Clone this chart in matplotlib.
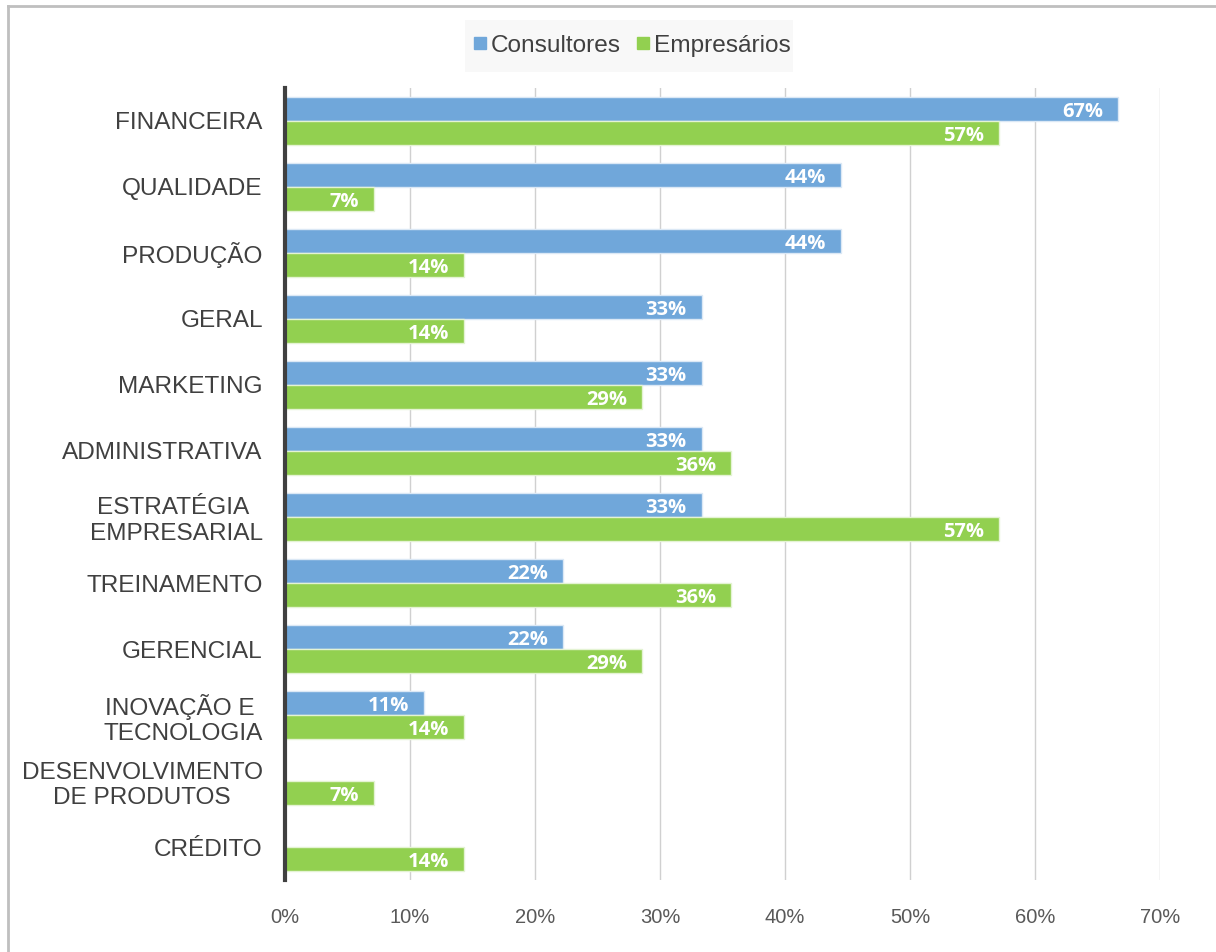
import numpy as np
import matplotlib.pyplot as plt
from matplotlib.lines import Line2D
from matplotlib.patches import Rectangle

categories = ["FINANCEIRA", "QUALIDADE", "PRODUÇÃO", "GERAL", "MARKETING",
              "ADMINISTRATIVA", "ESTRATÉGIA \nEMPRESARIAL", "TREINAMENTO",
              "GERENCIAL", "INOVAÇÃO E \nTECNOLOGIA",
              "DESENVOLVIMENTO\nDE PRODUTOS", "CRÉDITO"]
consultores = [66.67, 44.44, 44.44, 33.33, 33.33, 33.33, 33.33, 22.22, 22.22, 11.11, 0, 0]
empresarios = [57.14, 7.14, 14.29, 14.29, 28.57, 35.71, 57.14, 35.71, 28.57, 14.29, 7.14, 14.29]
xticks = [0, 10, 20, 30, 40, 50, 60, 70]

blue = "#70a7da"
green = "#92d050"
text_col = "#404040"

fig = plt.figure(figsize=(12.16, 9.52), dpi=100)
ax = fig.add_axes([0.2344, 0.0756, 0.954 - 0.2344, 0.9076 - 0.0756])

y = np.arange(len(categories))
h = 0.365
b1 = ax.barh(y - h / 2, consultores, height=h, color=blue, edgecolor="#dbe8f5", linewidth=1, zorder=3)
b2 = ax.barh(y + h / 2, empresarios, height=h, color=green, edgecolor="#e4f3d3", linewidth=1, zorder=3)

for bars, vals in ((b1, consultores), (b2, empresarios)):
    for bar, v in zip(bars, vals):
        if v <= 0:
            continue
        ax.text(v - 1.2, bar.get_y() + bar.get_height() / 2 + 0.04, f"{round(v)}%",
                ha="right", va="center", color="white", fontsize=14.5,
                fontweight="bold", family="Open Sans", zorder=4)

ax.set_ylim(len(categories) - 0.5, -0.5)
ax.set_xlim(0, 70)
ax.set_yticks(y)
ax.set_yticklabels(categories, fontsize=17.6, family="Liberation Sans", color=text_col,
                   multialignment="center")
ax.set_xticks(xticks)
ax.set_xticklabels([f"{t}%" for t in xticks], fontsize=14.5, family="Liberation Sans", color="#595959")
ax.tick_params(axis="both", length=0)
ax.tick_params(axis="x", pad=20)
ax.tick_params(axis="y", pad=16)

ax.grid(axis="x", color="#d0d0d0", linewidth=1, zorder=0)
for s in ("top", "right", "bottom"):
    ax.spines[s].set_visible(False)
ax.spines["left"].set_color("#404040")
ax.spines["left"].set_linewidth(3)
ax.spines["left"].set_zorder(5)

# legend box
fig.patches.append(Rectangle((465 / 1216, 1 - 72 / 952), 328 / 1216, 52 / 952,
                             transform=fig.transFigure, facecolor="#f8f8f8", edgecolor="none"))
handles = [Line2D([], [], marker="s", linestyle="none", markersize=8, color=blue),
           Line2D([], [], marker="s", linestyle="none", markersize=8, color=green)]
fig.legend(handles, ["Consultores", "Empresários"], loc="center", bbox_to_anchor=(630 / 1216, 1 - 46 / 952),
           ncol=2, frameon=False, prop={"family": "Liberation Sans", "size": 17.6},
           labelcolor=text_col, handletextpad=0.05, columnspacing=0.5, handlelength=0.8)

# outer border (top and left)
fig.add_artist(Line2D([7.5 / 1216, 1], [1 - 5.5 / 952, 1 - 5.5 / 952], color="#bfbfbf", linewidth=2))
fig.add_artist(Line2D([7.5 / 1216, 7.5 / 1216], [0, 1 - 5.5 / 952], color="#bfbfbf", linewidth=2))

fig.savefig("out.png", dpi=100, facecolor="white")
